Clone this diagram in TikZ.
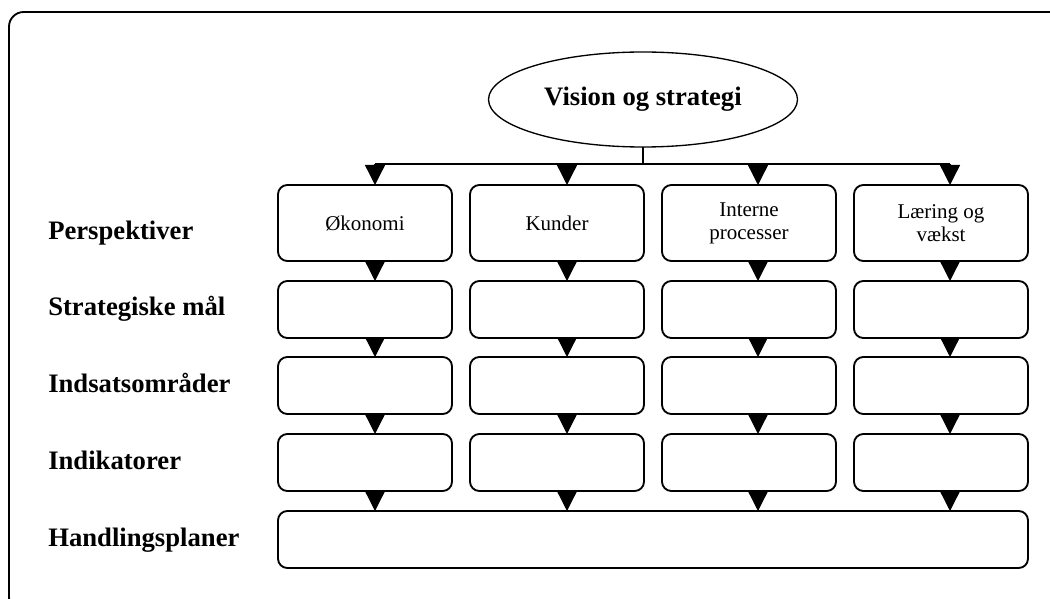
\documentclass[tikz,border=0pt]{standalone}
\usepackage{fontspec}
\setmainfont{Liberation Serif}
\usetikzlibrary{arrows.meta,shapes.geometric}

\tikzset{
  cell/.style={draw, line width=1.4pt, rounded corners=7pt, inner sep=0pt, outer sep=0pt,
    minimum width=130.5pt, minimum height=42.75pt, align=center,
    font=\fontsize{15.75}{17.25}\selectfont},
  tallcell/.style={cell, minimum height=57pt},
  rowlabel/.style={anchor=base west, inner sep=0pt, font=\fontsize{20}{24}\selectfont\bfseries},
  flow/.style={line width=1pt, -{Triangle[length=15pt,width=15pt]}},
  bus/.style={line width=1.1pt},
}

\begin{document}
\begin{tikzpicture}[x=0.75pt, y=-0.75pt]
  \useasboundingbox (0,0) rectangle (1050,599);

  % outer frame (runs past the page on the right and bottom)
  \draw[line width=1.4pt, rounded corners=11pt] (9,12) rectangle (1070,612);

  % top ellipse
  \node[draw, ellipse, line width=1pt, inner sep=0pt, outer sep=0pt,
        minimum width=231.75pt, minimum height=71.25pt,
        font=\fontsize{20}{24}\selectfont\bfseries] (vision) at (643,99.5) {Vision og strategi};

  % row labels
  \node[rowlabel] (lp) at (48,239) {Perspektiver};
  \node[rowlabel] (ls) at (48,315) {Strategiske mål};
  \node[rowlabel] (li) at (48,392) {Indsatsområder};
  \node[rowlabel] (lk) at (48,469) {Indikatorer};
  \node[rowlabel] (lh) at (48,546) {Handlingsplaner};

  % perspective boxes
  \node[tallcell] (p1) at (365,223) {Økonomi};
  \node[tallcell] (p2) at (557,223) {Kunder};
  \node[tallcell] (p3) at (749,223) {Interne\\processer};
  \node[tallcell] (p4) at (941,223) {Læring og\\vækst};

  % strategic goals
  \node[cell] (s1) at (365,309.5) {};
  \node[cell] (s2) at (557,309.5) {};
  \node[cell] (s3) at (749,309.5) {};
  \node[cell] (s4) at (941,309.5) {};

  % focus areas
  \node[cell] (i1) at (365,385.5) {};
  \node[cell] (i2) at (557,385.5) {};
  \node[cell] (i3) at (749,385.5) {};
  \node[cell] (i4) at (941,385.5) {};

  % indicators
  \node[cell] (k1) at (365,462.5) {};
  \node[cell] (k2) at (557,462.5) {};
  \node[cell] (k3) at (749,462.5) {};
  \node[cell] (k4) at (941,462.5) {};

  % action plans
  \node[cell, minimum width=562.5pt] (h) at (653,539.5) {};

  % arrow columns
  \coordinate (a1) at (375,0);
  \coordinate (a2) at (567,0);
  \coordinate (a3) at (758,0);
  \coordinate (a4) at (950,0);
  \coordinate (busmid) at (643,164);
  \coordinate (busl) at (375,164);
  \coordinate (busr) at (950,164);

  \draw[bus] (vision.south) -- (busmid);
  \draw[bus] (busl) -- (busr);

  \foreach \c in {1,2,3,4}{
    \draw[flow] (a\c |- busmid) -- (a\c |- p\c.north);
    \draw[flow] (a\c |- p\c.south) -- (a\c |- s\c.north);
    \draw[flow] (a\c |- s\c.south) -- (a\c |- i\c.north);
    \draw[flow] (a\c |- i\c.south) -- (a\c |- k\c.north);
    \draw[flow] (a\c |- k\c.south) -- (a\c |- h.north);
  }
\end{tikzpicture}
\end{document}
